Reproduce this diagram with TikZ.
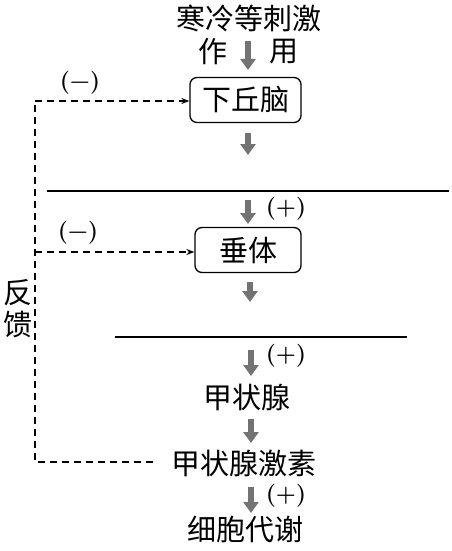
\documentclass[tikz,border=0pt]{standalone}
\usepackage{fontspec}
\newfontfamily\cjk{Noto Sans CJK SC}
\usetikzlibrary{arrows.meta}
\begin{document}
\begin{tikzpicture}[x=1pt,y=-1pt,
  txt/.style={font=\cjk\fontsize{29}{31}\selectfont, inner sep=0pt},
  boxnode/.style={txt, draw, line width=1.3pt, rounded corners=7pt, minimum height=45pt},
  sign/.style={font=\fontsize{23}{25}\selectfont\bfseries, inner sep=0pt},
  garrow/.style={line width=6pt, color=black!55, -{Triangle[width=15pt,length=11pt]}},
  rule/.style={line width=1.4pt},
  fb/.style={line width=1.3pt, dash pattern=on 7pt off 5pt},
  fbarrow/.style={fb, -{Stealth[length=8pt,width=6pt]}}]
\useasboundingbox (0,0) rectangle (451,551);
% texts
\node[txt] (stim) at (249,18) {寒冷等刺激};
\node[txt] (zuo) at (213,52) {作};
\node[txt] (yong) at (284,52) {用};
\node[boxnode, minimum width=111pt] (hyp) at (245.5,100) {下丘脑};
\node[boxnode, minimum width=106pt] (pit) at (248,250) {垂体};
\node[txt] (thy) at (247,397) {甲状腺};
\node[txt] (th) at (244,463) {甲状腺激素};
\node[txt] (met) at (245,529) {细胞代谢};
\node[txt] (fan) at (18,293) {反};
\node[txt] (kui) at (18,325) {馈};
% signs
\node[sign] (m1) at (80,83) {(−)};
\node[sign] (m2) at (78,233) {(−)};
\node[sign] (p1) at (286,209) {(+)};
\node[sign] (p2) at (286,356) {(+)};
\node[sign] (p3) at (286,496) {(+)};
% rules
\coordinate (r1a) at (47,191); \coordinate (r1b) at (449,191);
\coordinate (r2a) at (115,337); \coordinate (r2b) at (407,337);
\draw[rule] (r1a) -- (r1b);
\draw[rule] (r2a) -- (r2b);
% gray arrows
\coordinate (a1s) at (248,41); \coordinate (a1e) at (248,70);
\coordinate (a2s) at (248,133); \coordinate (a2e) at (248,155);
\coordinate (a3s) at (248,200); \coordinate (a3e) at (248,224);
\coordinate (a4s) at (250,282); \coordinate (a4e) at (250,302);
\coordinate (a5s) at (251,350); \coordinate (a5e) at (251,376);
\coordinate (a6s) at (251,419); \coordinate (a6e) at (251,443);
\coordinate (a7s) at (251,487); \coordinate (a7e) at (251,513);
\foreach \i in {1,...,7} {\draw[garrow] (a\i s) -- (a\i e);}
% feedback
\coordinate (fbstart) at (153,462);
\coordinate (fbcorner) at (35,462);
\coordinate (fbtop) at (35,101);
\coordinate (fbmid) at (35,252);
\draw[fb] (fbstart) -- (fbcorner) -- (fbtop);
\draw[fbarrow] (fbtop) -- (hyp.west |- fbtop);
\draw[fbarrow] (fbmid) -- (pit.west |- fbmid);
\end{tikzpicture}
\end{document}
